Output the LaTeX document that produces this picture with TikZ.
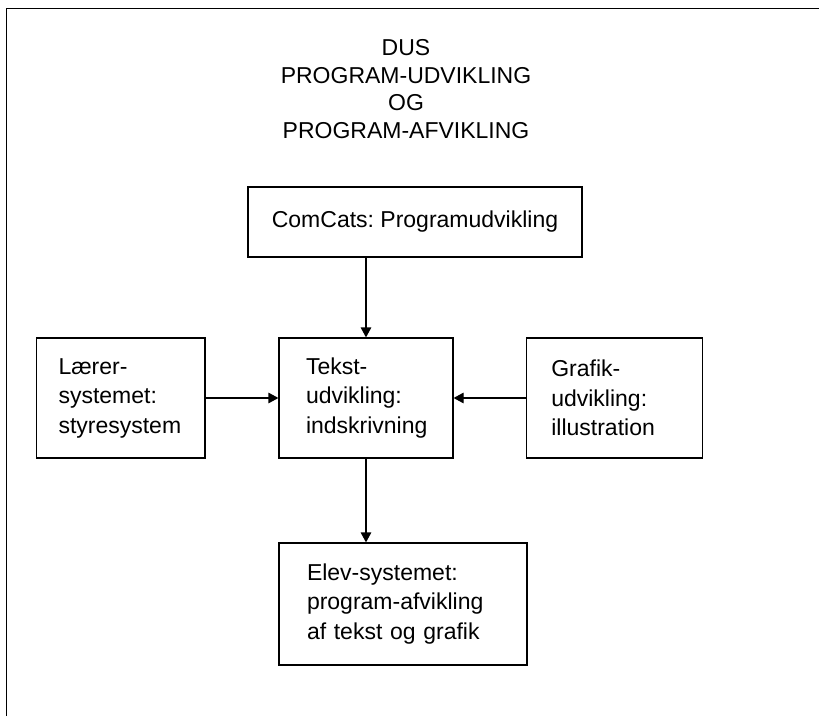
\documentclass[tikz,border=0pt]{standalone}
\usepackage{fontspec}
\setmainfont{Liberation Sans}
\usetikzlibrary{arrows.meta}
\begin{document}
\frenchspacing
\begin{tikzpicture}[x=1pt,y=1pt,
  box/.style={draw, line width=1.2pt, rectangle, inner ysep=0pt, align=left,
              font=\fontsize{23}{29.5}\selectfont},
  conn/.style={line width=1.2pt, -{Triangle[length=10pt,width=10.5pt]}},
  frameline/.style={line width=1pt}]
\useasboundingbox (0,0) rectangle (819,716);
\draw[frameline] (6.5,0) -- (6.5,707) -- (819,707);
\node[anchor=north, align=center, inner sep=0pt, font=\fontsize{23}{27.5}\selectfont]
  (title) at (406,716-56+16.5) {DUS\\PROGRAM-UDVIKLING\\OG\\PROGRAM-AFVIKLING};
\node[box, align=center, inner xsep=0pt, minimum width=334pt, minimum height=70pt] (comcats) at (415,494)
  {ComCats: Programudvikling};
\node[box, inner xsep=22pt, text width=124.5pt, minimum height=120pt] (laerer) at (120.75,318)
  {Lærer-\\systemet:\\styresystem};
\node[box, inner xsep=27pt, text width=120pt, minimum height=120pt] (tekst) at (366,318)
  {Tekst-\\udvikling:\\indskrivning};
\node[box, inner xsep=25pt, text width=126.4pt, minimum height=120pt] (grafik) at (614.5,318)
  {Grafik-\\udvikling:\\illustration};
\node[box, inner xsep=28pt, text width=192pt, minimum height=122pt] (elev) at (403,112)
  {Elev-systemet:\\program-afvikling\\af tekst og grafik};
\draw[conn] (comcats.south -| tekst.north) -- (tekst.north);
\draw[conn] (laerer.east) -- (laerer.east -| tekst.west);
\draw[conn] (grafik.west) -- (grafik.west -| tekst.east);
\draw[conn] (tekst.south) -- (tekst.south |- elev.north);
\end{tikzpicture}
\end{document}
